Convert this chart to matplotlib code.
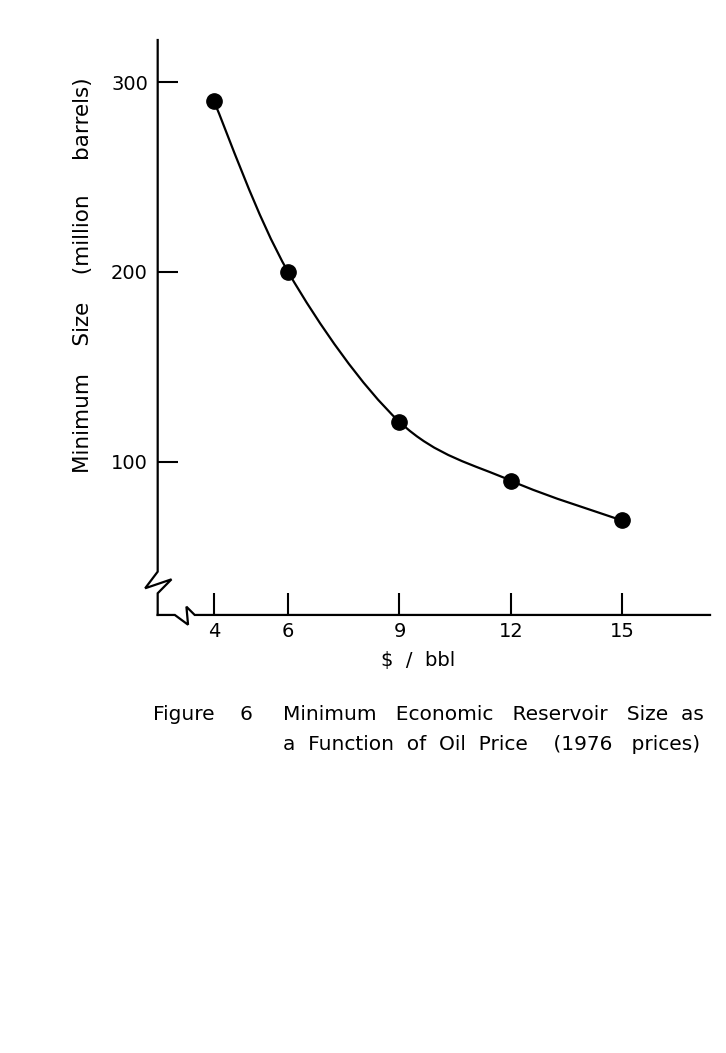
import matplotlib.pyplot as plt
import numpy as np
from matplotlib.path import Path
from matplotlib.patches import PathPatch

# values
price = [4, 6, 9, 12, 15]            # $ / bbl
min_size = [290, 200, 121, 90, 69]   # million barrels
xticks = [4, 6, 9, 12, 15]
yticks = [100, 200, 300]

fig = plt.figure(figsize=(7.26, 10.53), dpi=100)
ax = fig.add_axes([0.2172, 0.416, 0.7608, 0.546])
ax.set_xlim(2.483, 17.37)
ax.set_ylim(19.2, 322.3)

# smooth curve through the points (Catmull-Rom as cubic bezier)
px = np.array(price, dtype=float)
py = np.array(min_size, dtype=float)
verts = [(px[0], py[0])]
codes = [Path.MOVETO]
n = len(px)
for i in range(n - 1):
    p0 = (px[max(i - 1, 0)], py[max(i - 1, 0)])
    p1 = (px[i], py[i])
    p2 = (px[i + 1], py[i + 1])
    p3 = (px[min(i + 2, n - 1)], py[min(i + 2, n - 1)])
    c1 = (p1[0] + (p2[0] - p0[0]) / 6, p1[1] + (p2[1] - p0[1]) / 6)
    c2 = (p2[0] - (p3[0] - p1[0]) / 6, p2[1] - (p3[1] - p1[1]) / 6)
    verts += [c1, c2, p2]
    codes += [Path.CURVE4] * 3
ax.add_patch(PathPatch(Path(verts, codes), fill=False, lw=1.6, color='black'))
ax.plot(price, min_size, 'o', color='black', ms=11, zorder=3)

for s in ax.spines.values():
    s.set_visible(False)

# axes with break marks
k = dict(color='black', lw=1.6, transform=ax.transAxes, clip_on=False,
         solid_joinstyle='miter')
ax.plot([0, 0, -0.0227, 0.025, 0, 0], [1, 0.0753, 0.0464, 0.062, 0.0377, 0], **k)
ax.plot([0, 0.031, 0.055, 0.052, 0.067, 1], [0, 0, -0.017, 0.0144, 0, 0], **k)

ax.set_xticks(xticks)
ax.set_yticks(yticks)
ax.tick_params(direction='in', width=1.5, labelsize=14)
ax.tick_params(axis='x', length=16, pad=5)
ax.tick_params(axis='y', length=14.5, pad=7)

ax.set_xlabel('$  /  bbl', fontsize=14)
ax.xaxis.set_label_coords(0.471, -0.062)
ax.set_ylabel('Minimum    Size    (million     barrels)', fontsize=15.5)
ax.yaxis.set_label_coords(-0.117, 0.591)

fig.text(153 / 726, 1 - 715 / 1053, 'Figure    6', fontsize=14.5, va='center')
fig.text(283 / 726, 1 - 715 / 1053, 'Minimum   Economic   Reservoir   Size  as',
         fontsize=14.5, va='center')
fig.text(283 / 726, 1 - 745 / 1053, 'a  Function  of  Oil  Price    (1976   prices)',
         fontsize=14.5, va='center')

fig.savefig('out.png', dpi=100)
